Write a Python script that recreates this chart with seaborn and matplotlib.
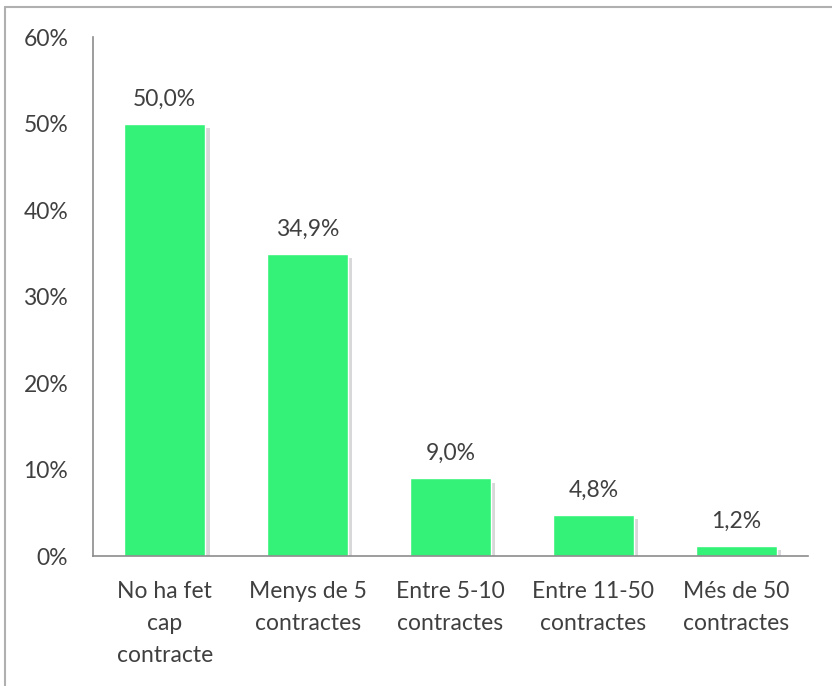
import matplotlib
matplotlib.use("Agg")
import matplotlib.pyplot as plt
import matplotlib.patheffects as pe
import seaborn as sns
import pandas as pd

# data
categories = ["No ha fet\ncap\ncontracte", "Menys de 5\ncontractes", "Entre 5-10\ncontractes",
              "Entre 11-50\ncontractes", "Més de 50\ncontractes"]
values = [50.0, 34.9, 9.0, 4.8, 1.2]
yticks = [0, 10, 20, 30, 40, 50, 60]

df = pd.DataFrame({"cat": categories, "pct": values})

sns.set_style("white")
plt.rcParams["font.family"] = ["Lato", "DejaVu Sans"]
txt = "#404040"
fs = 16.5

fig = plt.figure(figsize=(8.32, 6.86), dpi=100)
ax = fig.add_axes([0.112, 0.189, 0.859, 0.757])

sns.barplot(data=df, x="cat", y="pct", color="#33F277", saturation=1, width=0.57, ax=ax)

for bar in ax.patches:
    bar.set_path_effects([pe.SimplePatchShadow(offset=(3, -3), shadow_rgbFace="#909090", alpha=0.35),
                          pe.Normal()])

for i, v in enumerate(values):
    ax.text(i, v + 2.1, f"{v:.1f}%".replace(".", ","), ha="center", va="baseline",
            fontsize=fs, color=txt)

ax.set_ylim(0, 60)
ax.set_xlim(-0.5, len(values) - 0.5)
ax.set_yticks(yticks)
ax.set_yticklabels([f"{t}%" for t in yticks], fontsize=fs, color=txt)
ax.tick_params(axis="y", length=0, pad=18)
ax.tick_params(axis="x", length=0, pad=18, labelsize=fs, labelcolor=txt)
for lab in ax.get_xticklabels():
    lab.set_linespacing(1.65)
ax.set_xlabel("")
ax.set_ylabel("")
for s in ["top", "right"]:
    ax.spines[s].set_visible(False)
for s in ["left", "bottom"]:
    ax.spines[s].set_color("#8c8c8c")
    ax.spines[s].set_linewidth(1.2)

# outer frame (only top and left visible in the cropped original)
fig.add_artist(plt.Line2D([0.006, 0.006], [0, 0.99], color="#b0b0b0", lw=1.5, transform=fig.transFigure))
fig.add_artist(plt.Line2D([0.006, 1], [0.99, 0.99], color="#b0b0b0", lw=1.5, transform=fig.transFigure))

fig.savefig("out.png", dpi=100)
